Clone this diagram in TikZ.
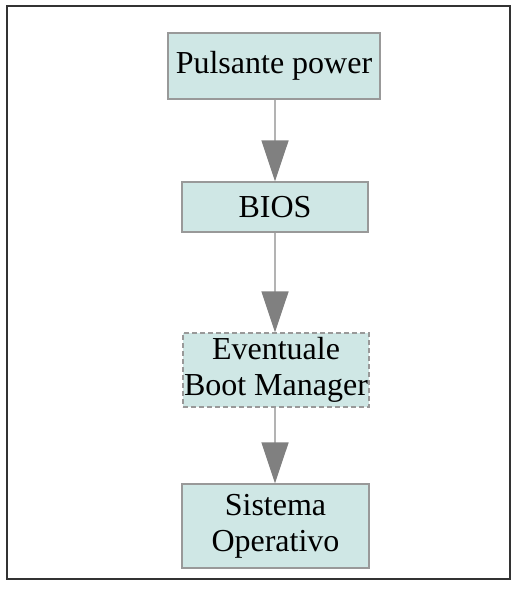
\documentclass[tikz,border=0pt]{standalone}
\usepackage{fontspec}
\setmainfont{Liberation Serif}
\usetikzlibrary{arrows.meta}
\definecolor{boxfill}{HTML}{CFE7E5}
\definecolor{boxline}{HTML}{999999}
\definecolor{arrline}{HTML}{B3B3B3}
\definecolor{arrhead}{HTML}{808080}
\begin{document}
\begin{tikzpicture}[x=1pt,y=-1pt,
  stepbox/.style={draw=boxline, fill=boxfill, line width=1.2pt, align=center,
    font=\fontsize{32}{36}\selectfont, inner sep=0pt},
  flow/.style={draw=arrline, line width=1.5pt,
    -{Triangle[width=27pt,length=41pt,fill=arrhead,color=arrhead]}}]
\useasboundingbox (0,0) rectangle (516,593);
\draw[color=black!80, line width=1.5pt] (7,6) rectangle (510,579);
\node[stepbox, minimum width=212pt, minimum height=66pt] (b1) at (274,66) {Pulsante power};
\node[stepbox, minimum width=186pt, minimum height=50pt] (b2) at (275,207) {BIOS};
\node[stepbox, dashed, dash pattern=on 5pt off 3pt, minimum width=186pt, minimum height=74pt] (b3) at (276,370) {Eventuale\\Boot Manager};
\node[stepbox, minimum width=187pt, minimum height=84pt] (b4) at (275.5,526) {Sistema\\Operativo};
\draw[flow] (b2.north |- b1.south) -- (b2.north);
\draw[flow] (b2.south) -- (b2.south |- b3.north);
\draw[flow] (b2.south |- b3.south) -- (b2.south |- b4.north);
\end{tikzpicture}
\end{document}
